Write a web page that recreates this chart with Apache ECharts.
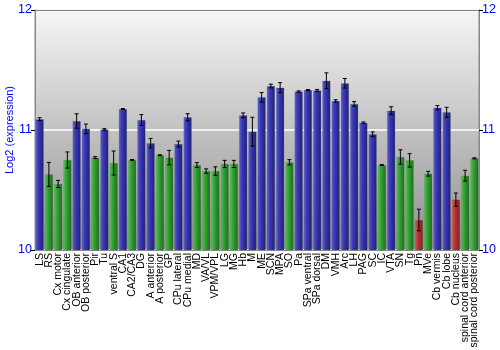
<!DOCTYPE html>
<html><head><meta charset="utf-8">
<script src="https://cdn.jsdelivr.net/npm/echarts@6/dist/echarts.min.js"></script>
<style>html,body{margin:0;padding:0;background:#fff}#c{width:500px;height:350px}</style>
</head><body><div id="c"></div>
<script>
var categories = ["LS","RS","Cx motor","Cx cingulate","OB anterior","OB posterior","Pir","Tu","ventral S","CA1","CA2/CA3","DG","A anterior","A posterior","GP","CPu lateral","CPu medial","MD","VA/VL","VPM/VPL","LG","MG","Hb","M","ME","SCN","MPA","SO","Pa","SPa ventral","SPa dorsal","DM","VMH","Arc","LH","PAG","SC","IC","VTA","SN","Tg","Pn","MVe","Cb vermis","Cb lobe","Cb nucleus","spinal cord anterior","spinal cord posterior"];
var values = [11.09,10.63,10.55,10.75,11.075,11.01,10.77,11.005,10.725,11.175,10.75,11.083,10.89,10.79,10.77,10.883,11.106,10.708,10.658,10.658,10.717,10.717,11.122,10.986,11.272,11.367,11.353,10.731,11.32,11.333,11.33,11.411,11.242,11.389,11.217,11.061,10.964,10.708,11.161,10.775,10.747,10.25,10.636,11.186,11.147,10.42,10.619,10.764];
var errors = [0.012,0.1,0.03,0.067,0.06,0.04,0.008,0.006,0.1,0.004,0.004,0.045,0.04,0.004,0.06,0.025,0.03,0.02,0.018,0.035,0.03,0.03,0.02,0.12,0.04,0.015,0.042,0.022,0.006,0.004,0.008,0.065,0.01,0.04,0.02,0.006,0.02,0.004,0.033,0.06,0.056,0.09,0.02,0.018,0.042,0.055,0.045,0.004];
var groups = ["B","G","G","G","B","B","G","B","G","B","G","B","B","G","G","B","B","G","G","G","G","G","B","B","B","B","B","G","B","B","B","B","B","B","B","B","B","G","B","G","G","R","G","B","B","R","G","G"];
var yTicks = [10, 11, 12];

function grad(a,b,c){
  return new echarts.graphic.LinearGradient(0,0,1,0,[{offset:0,color:a},{offset:0.35,color:b},{offset:1,color:c}]);
}
var palette = {
  B: grad('#6262d6','#3a3ab4','#1e1e78'),
  G: grad('#5cc45c','#35a535','#1c6c1c'),
  R: grad('#d86060','#b83636','#7e2020')
};
var barData = values.map(function(v,i){return {value:v,itemStyle:{color:palette[groups[i]]}};});
var errData = values.map(function(v,i){return [i, v-errors[i], v+errors[i]];});

var chart = echarts.init(document.getElementById('c'));
chart.setOption({
  animation:false,
  grid:{left:35,right:21,top:10,bottom:100,show:true,borderColor:'#888',borderWidth:1,containLabel:false,outerBoundsMode:'none',
    backgroundColor:new echarts.graphic.LinearGradient(0,0,0,1,[{offset:0,color:'#f6f6f6'},{offset:1,color:'#8e8e8e'}])},
  xAxis:[{type:'category',data:categories,
    axisLine:{show:true,lineStyle:{color:'#888'}},axisTick:{show:false},
    axisLabel:{rotate:90,interval:0,fontSize:10.5,color:'#000',fontFamily:'Liberation Sans, Arial, sans-serif',margin:3}},
   {type:'category',data:categories,position:'top',axisLine:{show:true,lineStyle:{color:'#888'}},axisTick:{show:false},axisLabel:{show:false}}],
  yAxis:[{type:'value',min:yTicks[0],max:yTicks[yTicks.length-1],interval:1,position:'left',
    name:'Log2 (expression)',nameLocation:'middle',nameGap:20,nameMoveOverlap:false,
    nameTextStyle:{color:'#0000ff',fontSize:11,fontFamily:'Liberation Sans, Arial, sans-serif'},
    axisLine:{show:true,lineStyle:{color:'#888'}},axisTick:{show:true,length:4,lineStyle:{color:'#000'}},
    axisLabel:{color:'#0000ff',fontSize:12.5,margin:3,fontFamily:'Liberation Sans, Arial, sans-serif'},
    splitLine:{show:true,lineStyle:{color:'#ffffff',width:1.5}}},
   {type:'value',min:yTicks[0],max:yTicks[yTicks.length-1],interval:1,position:'right',
    axisLine:{show:true,lineStyle:{color:'#888'}},axisTick:{show:true,length:4,lineStyle:{color:'#000'}},
    axisLabel:{color:'#0000ff',fontSize:12.5,margin:3,fontFamily:'Liberation Sans, Arial, sans-serif'},
    splitLine:{show:false}}],
  series:[
   {type:'bar',data:barData,barCategoryGap:'12%',itemStyle:{borderColor:'rgba(90,90,90,0.35)',borderWidth:0.5}},
   {type:'custom',data:errData,z:5,
    renderItem:function(params,api){
      var x=api.coord([api.value(0),api.value(1)]);
      var y=api.coord([api.value(0),api.value(2)]);
      var h=2;
      return {type:'group',children:[
        {type:'line',shape:{x1:x[0],y1:x[1],x2:y[0],y2:y[1]},style:{stroke:'#000',lineWidth:1}},
        {type:'line',shape:{x1:x[0]-h,y1:x[1],x2:x[0]+h,y2:x[1]},style:{stroke:'#000',lineWidth:1}},
        {type:'line',shape:{x1:y[0]-h,y1:y[1],x2:y[0]+h,y2:y[1]},style:{stroke:'#000',lineWidth:1}}
      ]};
    }}
  ]
});
</script></body></html>
